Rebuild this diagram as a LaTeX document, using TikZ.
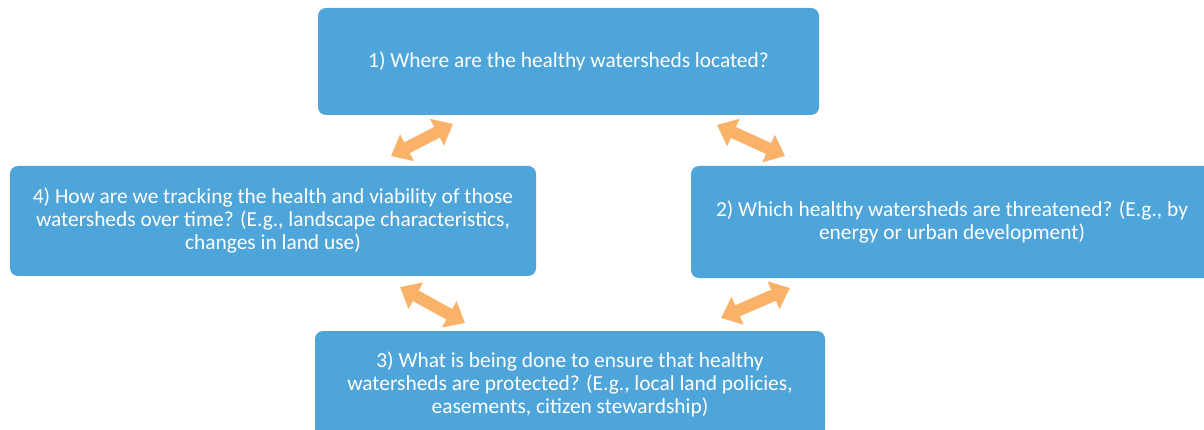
\documentclass[tikz,border=0pt]{standalone}
\usepackage{fontspec}
\setmainfont{Carlito}
\usetikzlibrary{arrows.meta}
\definecolor{boxblue}{HTML}{4EA5D9}
\definecolor{arrorange}{HTML}{FAB168}
\tikzset{
  qbox/.style={fill=boxblue, draw=none, rounded corners=8pt, text=white, align=center,
    inner sep=0pt, font=\fontsize{21.4}{23}\selectfont},
  dblarrow/.style={draw=arrorange, line width=12pt,
    {Triangle[length=18pt,width=29pt]}-{Triangle[length=18pt,width=29pt]}}
}
\begin{document}
\begin{tikzpicture}[x=1pt,y=-1pt]
\useasboundingbox (0,0) rectangle (1204,430);
\clip (0,0) rectangle (1204,430);
\fill[white] (0,0) rectangle (1204,430);
\node[qbox, minimum width=501pt, minimum height=107pt] (b1) at (568.5,61.5)
  {1) Where are the healthy watersheds located?};
\node[qbox, minimum width=522pt, minimum height=112pt] (b2) at (952,222)
  {2) Which healthy watersheds are threatened? (E.g., by\\energy or urban development)};
\node[qbox, minimum width=510pt, minimum height=106pt] (b3) at (570,384)
  {3) What is being done to ensure that healthy\\watersheds are protected? (E.g., local land policies,\\easements, citizen stewardship)};
\node[qbox, minimum width=526pt, minimum height=110pt] (b4) at (273,221)
  {4) How are we tracking the health and viability of those\\watersheds over time? (E.g., landscape characteristics,\\changes in land use)};
\coordinate (a1) at (391,156);
\coordinate (a2) at (453,124);
\coordinate (c1) at (717,125);
\coordinate (c2) at (785,156);
\coordinate (d1) at (400,287);
\coordinate (d2) at (465,323);
\coordinate (e1) at (721,318);
\coordinate (e2) at (790,288);
\draw[dblarrow] (a1) -- (a2);
\draw[dblarrow] (c1) -- (c2);
\draw[dblarrow] (d1) -- (d2);
\draw[dblarrow] (e1) -- (e2);
\end{tikzpicture}
\end{document}
